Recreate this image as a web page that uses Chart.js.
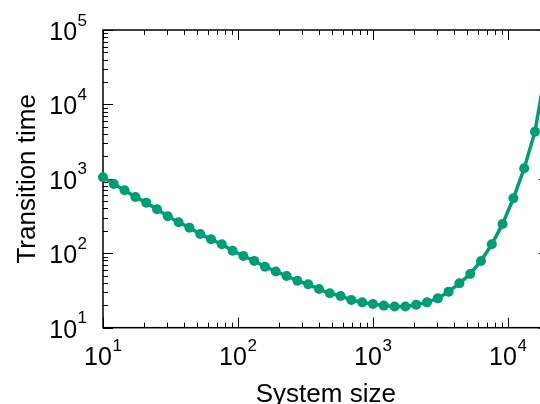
<!DOCTYPE html>
<html>
<head>
<meta charset="utf-8">
<script src="https://cdn.jsdelivr.net/npm/chart.js@4"></script>
<style>
  html, body { margin: 0; padding: 0; background: #fff; }
  #wrap { width: 540px; height: 404px; position: relative; }
</style>
</head>
<body>
<div id="wrap"><canvas id="chart"></canvas></div>
<script>
// system sizes, 12.5 points per decade
const sizes = [
  10, 12.02, 14.45, 17.38, 20.89, 25.12, 30.2, 36.31, 43.65, 52.48,
  63.1, 75.86, 91.2, 109.6, 131.8, 158.5, 190.5, 229.1, 275.4, 331.1,
  398.1, 478.6, 575.4, 691.8, 831.8, 1000, 1202, 1445, 1738, 2089,
  2512, 3020, 3631, 4365, 5248, 6310, 7586, 9120, 10965, 13183,
  15849, 19055
];

const times = [
  1050, 855, 703, 571, 479, 390, 314, 261, 221, 182,
  154, 132, 108, 92, 79, 66, 57, 49.5, 42.8, 38.3,
  33.1, 29, 26.7, 23.6, 21.9, 20.8, 19.8, 19.3, 19.3, 20.4,
  21.9, 24.8, 30.5, 39.5, 52.7, 78.8, 132, 248, 548, 1388,
  4310, 30000
];

const xExponents = [1, 2, 3, 4];
const yExponents = [1, 2, 3, 4, 5];
const xFrame = [10, 20000];
const yFrame = [10, 100000];
const xTitle = "System size";
const yTitle = "Transition time";

const green = "#009e73";
const fontFamily = '"Liberation Sans", Arial, Helvetica, sans-serif';

function minorValues(lo, hi) {
  const out = [];
  for (let d = lo; d < hi; d *= 10) {
    for (let k = 1; k <= 9; k++) {
      const v = d * k;
      if (v <= hi) out.push({ value: v, major: k === 1 });
    }
  }
  out.push({ value: hi, major: Math.log10(hi) % 1 === 0 });
  return out;
}

function drawPower(ctx, exp, anchorX, baseline, align) {
  ctx.font = `25px ${fontFamily}`;
  const w1 = ctx.measureText("10").width;
  ctx.font = `17px ${fontFamily}`;
  const w2 = ctx.measureText(String(exp)).width;
  const total = w1 + w2 + 0.5;
  const start = align === "center" ? anchorX - total / 2 : anchorX - total;
  ctx.textAlign = "left";
  ctx.textBaseline = "alphabetic";
  ctx.font = `25px ${fontFamily}`;
  ctx.fillText("10", start, baseline);
  ctx.font = `17px ${fontFamily}`;
  ctx.fillText(String(exp), start + w1 + 0.5, baseline - 14.5);
}

const framePlugin = {
  id: "frame",
  beforeDatasetsDraw(chart) {
    const { ctx, scales } = chart;
    const x = scales.x;
    const y = scales.y;
    const left = x.getPixelForValue(xFrame[0]);
    const right = x.getPixelForValue(xFrame[1]);
    const top = y.getPixelForValue(yFrame[1]);
    const bottom = y.getPixelForValue(yFrame[0]);

    ctx.save();
    ctx.strokeStyle = "#000";
    ctx.lineWidth = 1;

    minorValues(xFrame[0], xFrame[1]).forEach((t) => {
      const px = Math.round(x.getPixelForValue(t.value)) + 0.5;
      const len = t.major ? 10 : 5;
      ctx.beginPath();
      ctx.moveTo(px, bottom);
      ctx.lineTo(px, bottom - len);
      ctx.moveTo(px, top);
      ctx.lineTo(px, top + len);
      ctx.stroke();
    });

    minorValues(yFrame[0], yFrame[1]).forEach((t) => {
      const py = Math.round(y.getPixelForValue(t.value)) + 0.5;
      const len = t.major ? 10 : 5;
      ctx.beginPath();
      ctx.moveTo(left, py);
      ctx.lineTo(left + len, py);
      ctx.moveTo(right, py);
      ctx.lineTo(right - len, py);
      ctx.stroke();
    });

    ctx.lineWidth = 1.5;
    ctx.strokeRect(left, top, right - left, bottom - top);
    ctx.restore();
  },
  afterDraw(chart) {
    const { ctx, scales } = chart;
    const x = scales.x;
    const y = scales.y;
    const left = x.getPixelForValue(xFrame[0]);
    const right = x.getPixelForValue(xFrame[1]);
    const top = y.getPixelForValue(yFrame[1]);
    const bottom = y.getPixelForValue(yFrame[0]);

    ctx.save();
    ctx.fillStyle = "#000";

    xExponents.forEach((e) => {
      drawPower(ctx, e, x.getPixelForValue(Math.pow(10, e)), bottom + 37.5, "center");
    });
    yExponents.forEach((e) => {
      drawPower(ctx, e, 87, y.getPixelForValue(Math.pow(10, e)) + 10, "right");
    });

    ctx.font = `26px ${fontFamily}`;
    ctx.textAlign = "center";
    ctx.textBaseline = "alphabetic";
    ctx.fillText(xTitle, (left + right) / 2, 402);

    ctx.translate(34.5, (top + bottom) / 2);
    ctx.rotate(-Math.PI / 2);
    ctx.fillText(yTitle, 0, 0);
    ctx.restore();
  }
};

new Chart(document.querySelector("#chart"), {
  type: "line",
  data: {
    datasets: [{
      data: sizes.map((s, i) => ({ x: s, y: times[i] })),
      borderColor: green,
      backgroundColor: green,
      borderWidth: 3.5,
      pointRadius: 5,
      pointBorderWidth: 0,
      pointBackgroundColor: green,
      tension: 0,
      clip: false
    }]
  },
  options: {
    responsive: true,
    maintainAspectRatio: false,
    animation: false,
    layout: {
      autoPadding: false,
      padding: { left: 103, top: 30, right: 0, bottom: 76.3 }
    },
    plugins: {
      legend: { display: false },
      tooltip: { enabled: false }
    },
    scales: {
      x: {
        type: "logarithmic",
        display: false,
        min: 10,
        max: 17260
      },
      y: {
        type: "logarithmic",
        display: false,
        min: 10,
        max: 100000
      }
    }
  },
  plugins: [framePlugin]
});
</script>
</body>
</html>
